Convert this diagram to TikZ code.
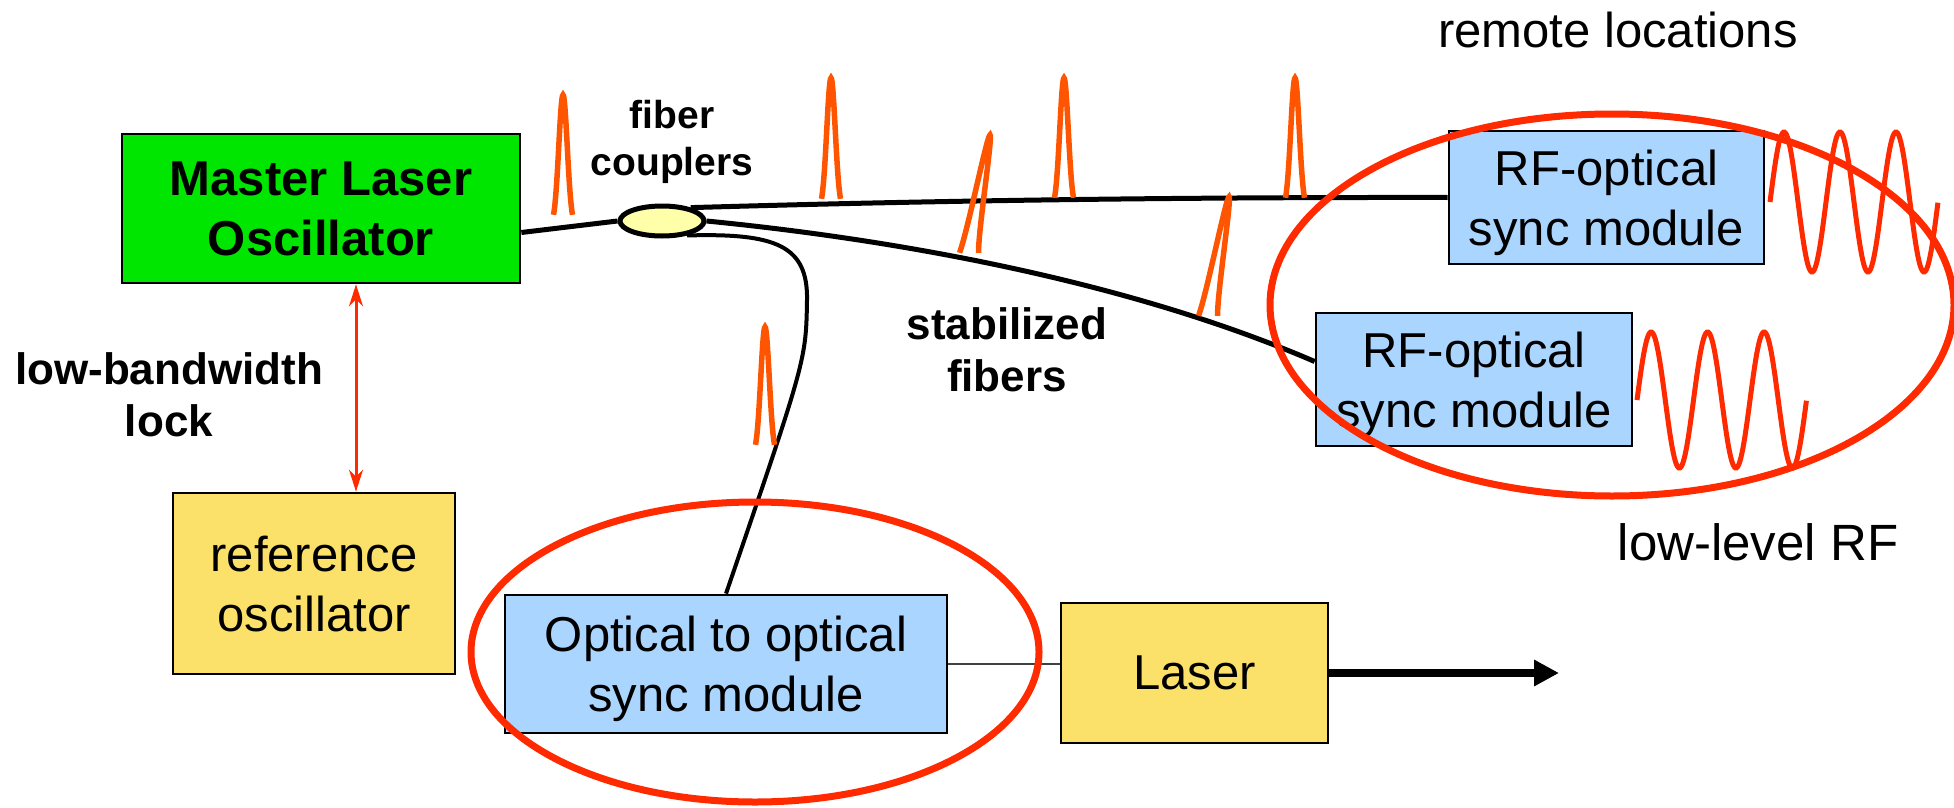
\documentclass[tikz,border=0pt]{standalone}
\usepackage{fontspec}
\setmainfont{Liberation Sans}
\usetikzlibrary{arrows.meta,shapes.geometric}

\definecolor{mlogreen}{RGB}{0,230,0}
\definecolor{boxyellow}{RGB}{251,225,106}
\definecolor{boxblue}{RGB}{170,213,255}
\definecolor{couplerfill}{RGB}{255,255,170}
\definecolor{rfred}{RGB}{255,42,0}
\definecolor{pulseorange}{RGB}{255,85,0}

% short optical pulse: base point (#1,#2), peak point (#3,#4)
\newcommand{\pulse}[4]{%
  \draw[pulseline] plot[domain=-9.5:9.5,samples=41]
    ({#1+\x+(#3-#1)*(exp(-(\x/6)^2)-0.08)/0.92},{#2+(#4-#2)*(exp(-(\x/6)^2)-0.08)/0.92});}

\begin{document}
\begin{tikzpicture}[x=1pt,y=-1pt,
    box/.style={draw=black,line width=2.7pt,inner sep=0pt,align=center,text depth=-5pt,
      font=\fontsize{49}{60}\selectfont},
    boldtext/.style={align=center,font=\bfseries\fontsize{44}{52}\selectfont},
    plaintext/.style={align=center,font=\fontsize{49}{60}\selectfont},
    fiber/.style={draw=black,line width=5pt},
    pulseline/.style={draw=pulseorange,line width=5.5pt},
    rfwave/.style={draw=rfred,line width=5pt},
    markring/.style={draw=rfred,line width=7pt},
    lockarrow/.style={draw=rfred,line width=3pt,
      {Stealth[length=22pt,width=14pt]}-{Stealth[length=22pt,width=14pt]}},
    thinlink/.style={draw=black!75,line width=1.5pt},
    beamarrow/.style={draw=black,line width=8pt,-{Triangle[length=25pt,width=25pt]}}]
  \useasboundingbox (0,0) rectangle (1954,808);

  % boxes
  \node[box,fill=mlogreen,minimum width=398pt,minimum height=149pt,
    font=\bfseries\fontsize{49}{60}\selectfont] (mlo) at (321,208.5) {Master Laser\\Oscillator};
  \node[box,fill=boxyellow,minimum width=282pt,minimum height=181pt,text depth=-12pt] (ref) at (314,583.5) {reference\\oscillator};
  \node[box,fill=boxblue,minimum width=442pt,minimum height=138pt,text depth=-12pt] (opt) at (726,664) {Optical to optical\\sync module};
  \node[box,fill=boxyellow,minimum width=267pt,minimum height=140pt] (laser) at (1194.5,673) {Laser};
  \node[box,fill=boxblue,minimum width=315pt,minimum height=133pt] (rfa) at (1606.5,197.5) {RF-optical\\sync module};
  \node[box,fill=boxblue,minimum width=316pt,minimum height=133pt] (rfb) at (1474,379.5) {RF-optical\\sync module};
  \node[ellipse,draw=black,line width=5pt,fill=couplerfill,inner sep=0pt,
    minimum width=84pt,minimum height=30pt] (coupler) at (662,221) {};

  % labels
  \node[boldtext,font=\bfseries\fontsize{39}{47}\selectfont] (fc) at (672,142) {fiber\\couplers};
  \node[boldtext] (sf) at (1007,350) {stabilized\\fibers};
  \node[boldtext] (lbw) at (169,395) {low-bandwidth\\lock};
  \node[plaintext] (remote) at (1618,30) {remote locations};
  \node[plaintext,font=\fontsize{51}{60}\selectfont] (llrf) at (1758,542) {low-level RF};

  % fibers
  \draw[fiber] ([yshift=-24pt]mlo.east) -- (coupler.west);
  \draw[fiber] (coupler.25) .. controls (850,203) and (1100,197) .. (rfa.west);
  \draw[fiber] (coupler.east) .. controls (900,240) and (1130,282) .. ([yshift=18pt]rfb.west);
  \draw[fiber,line width=4pt] (coupler.-30) .. controls (775,233) and (808,245) .. (807,300)
    .. controls (806,360) .. (opt.north);

  % lock and output
  \coordinate (lk) at (356,0);
  \draw[lockarrow] (mlo.south -| lk) -- (ref.north -| lk);
  \draw[thinlink] (opt.east) -- (opt.east -| laser.west);
  \coordinate (beam) at (1559,673);
  \draw[beamarrow] (laser.east) -- (beam);

  % pulses on the fibers
  \pulse{563}{215}{563}{95}
  \pulse{831}{199}{831}{78}
  \pulse{969}{253}{990}{135}
  \pulse{1064}{198}{1064}{78}
  \pulse{1208}{316}{1229}{197}
  \pulse{1295}{198}{1295}{78}
  \pulse{765}{445}{765}{327}

  % rf output
  \draw[rfwave] plot[domain=0:3,samples=151] ({1770+56*\x},{202-70*sin(360*\x)});
  \draw[rfwave] plot[domain=0:3,samples=151] ({1637+56.5*\x},{400-68*sin(360*\x)});

  % rings
  \draw[markring] (1612,305) ellipse [x radius=342pt,y radius=191pt];
  \draw[markring] (755,652) ellipse [x radius=284pt,y radius=150pt];
\end{tikzpicture}
\end{document}
